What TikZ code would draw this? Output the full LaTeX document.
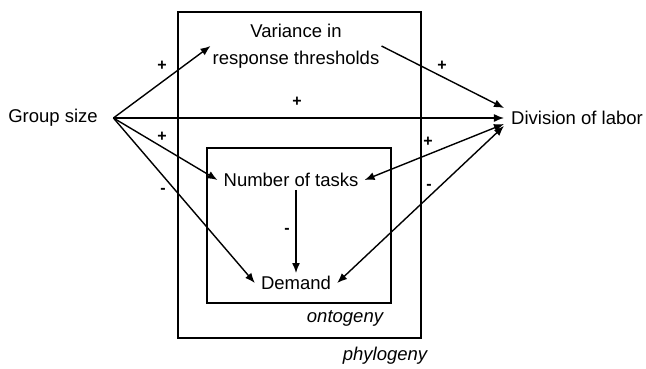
\documentclass[tikz,border=0pt]{standalone}
\usepackage{fontspec}
\setmainfont{Liberation Sans}
\usetikzlibrary{arrows.meta, positioning}

\begin{document}
\begin{tikzpicture}[
    x=1pt, y=-1pt,
    factor/.style={
        inner xsep=6pt,
        inner ysep=3pt,
        align=center,
        font=\fontsize{18.5}{27}\selectfont
    },
    sign/.style={font=\fontsize{16}{16}\selectfont\bfseries, inner sep=0pt},
    levelname/.style={font=\fontsize{18.5}{18}\selectfont\itshape, inner sep=0pt},
    framebox/.style={line width=1.8pt},
    link/.style={-{Latex[length=10pt, width=8pt]}, line width=1.4pt},
    both/.style={{Latex[length=10pt, width=8pt]}-{Latex[length=10pt, width=8pt]}, line width=1.4pt}
]
\useasboundingbox (0,0) rectangle (646,368);

% phylogeny and ontogeny frames
\draw[framebox] (178,12) rectangle (421,338);
\draw[framebox] (207,148) rectangle (391,303);
\node[levelname] (phylo) at (385,356) {phylogeny};
\node[levelname] (onto) at (345,318) {ontogeny};

\node[factor, inner xsep=15.5pt] (grp) at (53,118) {Group size};
\node[factor, inner xsep=7pt] (div) at (577,118) {Division of labor};
\node[factor, inner xsep=2pt] (var) at (296,46) {Variance in\\response thresholds};
\node[factor] (tasks) at (291,180) {Number of tasks};
\node[factor] (dem) at (296,283) {Demand};

\draw[link] (grp.east) -- (var.west);
\draw[link] (grp.east) -- (div.west);
\draw[link] (grp.east) -- (tasks.west);
\draw[link] (grp.east) -- (dem.west);
\draw[link] (var.east) -- ([yshift=10pt]div.west);
\draw[both] (tasks.east) -- ([yshift=-6pt]div.west);
\draw[both] (dem.east) -- ([yshift=-8pt]div.west);
\draw[link] (tasks.south -| dem.north) -- (dem.north);

\node[sign] (s1) at (162,66) {+};
\node[sign] (s2) at (297,102) {+};
\node[sign] (s3) at (162,137) {+};
\node[sign] (s4) at (163,191) {-};
\node[sign] (s5) at (442,66) {+};
\node[sign] (s6) at (428,142) {+};
\node[sign] (s7) at (429,187) {-};
\node[sign] (s8) at (287,231) {-};

\end{tikzpicture}
\end{document}
